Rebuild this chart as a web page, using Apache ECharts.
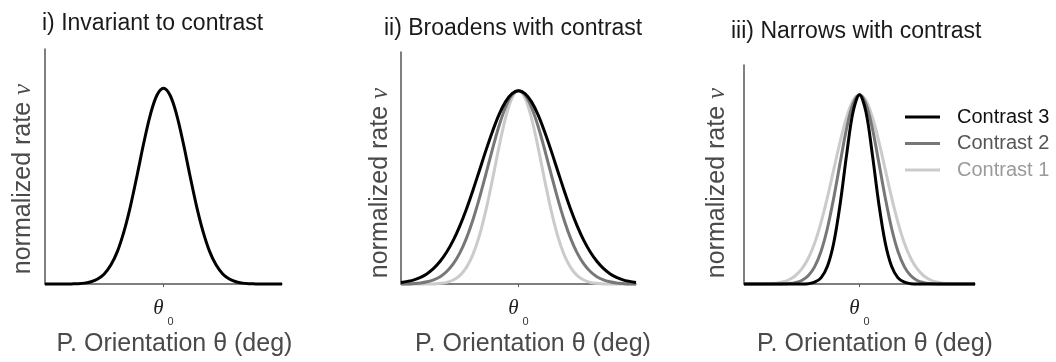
<!DOCTYPE html>
<html>
<head>
<meta charset="utf-8">
<script src="https://cdn.jsdelivr.net/npm/echarts@6/dist/echarts.min.js"></script>
<style>
  html, body { margin: 0; padding: 0; background: #fff; }
  #chart { width: 1056px; height: 362px; }
</style>
</head>
<body>
<div id="chart"></div>
<script>
// Preferred orientation offsets (deg), shared by all three panels
const orientation = [-90, -85, -80, -75, -70, -65, -60, -55, -50, -45, -40, -35, -30, -25, -20, -15, -10, -5, 0,
  5, 10, 15, 20, 25, 30, 35, 40, 45, 50, 55, 60, 65, 70, 75, 80, 85, 90];

// Panel i: one tuning curve, same for every contrast
const invariantRate = [0, 0, 0, 0, 0.001, 0.002, 0.005, 0.012, 0.026, 0.052, 0.097, 0.167, 0.269, 0.401, 0.557, 0.72, 0.864, 0.964, 1,
  0.964, 0.864, 0.72, 0.557, 0.401, 0.269, 0.167, 0.097, 0.052, 0.026, 0.012, 0.005, 0.002, 0.001, 0, 0, 0, 0];

// Panel ii: tuning broadens as contrast rises
const broadC3 = [0.008, 0.014, 0.022, 0.035, 0.054, 0.081, 0.118, 0.166, 0.226, 0.3, 0.386, 0.483, 0.586, 0.69, 0.788, 0.875, 0.942, 0.985, 1,
  0.985, 0.942, 0.875, 0.788, 0.69, 0.586, 0.483, 0.386, 0.3, 0.226, 0.166, 0.118, 0.081, 0.054, 0.035, 0.022, 0.014, 0.008];
const broadC2 = [0.001, 0.001, 0.003, 0.006, 0.012, 0.022, 0.038, 0.065, 0.104, 0.16, 0.235, 0.33, 0.443, 0.568, 0.696, 0.816, 0.913, 0.978, 1,
  0.978, 0.913, 0.816, 0.696, 0.568, 0.443, 0.33, 0.235, 0.16, 0.104, 0.065, 0.038, 0.022, 0.012, 0.006, 0.003, 0.001, 0.001];
const broadC1 = [0, 0, 0, 0, 0.001, 0.001, 0.004, 0.009, 0.021, 0.044, 0.085, 0.151, 0.249, 0.381, 0.539, 0.707, 0.857, 0.962, 1,
  0.962, 0.857, 0.707, 0.539, 0.381, 0.249, 0.151, 0.085, 0.044, 0.021, 0.009, 0.004, 0.001, 0.001, 0, 0, 0, 0];

// Panel iii: tuning narrows as contrast rises
const narrowC3 = [0, 0, 0, 0, 0, 0, 0, 0, 0, 0, 0.002, 0.01, 0.033, 0.094, 0.22, 0.427, 0.685, 0.91, 1,
  0.91, 0.685, 0.427, 0.22, 0.094, 0.033, 0.01, 0.002, 0, 0, 0, 0, 0, 0, 0, 0, 0, 0];
const narrowC2 = [0, 0, 0, 0, 0, 0, 0.001, 0.003, 0.008, 0.019, 0.044, 0.091, 0.172, 0.295, 0.458, 0.644, 0.823, 0.952, 1,
  0.952, 0.823, 0.644, 0.458, 0.295, 0.172, 0.091, 0.044, 0.019, 0.008, 0.003, 0.001, 0, 0, 0, 0, 0, 0];
const narrowC1 = [0, 0, 0, 0.001, 0.002, 0.005, 0.011, 0.023, 0.044, 0.08, 0.135, 0.216, 0.325, 0.458, 0.607, 0.755, 0.882, 0.969, 1,
  0.969, 0.882, 0.755, 0.607, 0.458, 0.325, 0.216, 0.135, 0.08, 0.044, 0.023, 0.011, 0.005, 0.002, 0.001, 0, 0, 0];

const panelTitles = ['i) Invariant to contrast', 'ii) Broadens with contrast', 'iii) Narrows with contrast'];
const contrastNames = ['Contrast 1', 'Contrast 2', 'Contrast 3'];
const xAxisTitle = 'P. Orientation θ (deg)';
const preferredTick = [0];

const SANS = '"Liberation Sans", Arial, Helvetica, sans-serif';
const SERIF = '"Liberation Serif", "DejaVu Serif", serif';
const AXIS_COLOR = '#555';
const LABEL_COLOR = '#4a4a4a';
const curveColors = { 'Contrast 1': '#cbcbcb', 'Contrast 2': '#777777', 'Contrast 3': '#000000' };

const pairs = vals => orientation.map((x, i) => [x, vals[i]]);

const grids = [
  { left: 45, top: 49, width: 237, height: 237 },
  { left: 401, top: 52, width: 235, height: 233 },
  { left: 744, top: 65, width: 231, height: 221 }
];
const yMax = [1.2, 1.2, 1.157];
const xNamePad = [22, 29, 31];
const yNameGap = [9, 8.5, 14.5];
const yNamePad = [25, 30, 17];

function xAxisFor(i) {
  return {
    type: 'value', gridIndex: i, min: -90, max: 90, interval: 90,
    axisLine: { show: true, onZero: false, lineStyle: { color: AXIS_COLOR, width: 1.5 } },
    axisTick: { show: true, customValues: preferredTick, length: 3, lineStyle: { color: AXIS_COLOR, width: 1 } },
    axisLabel: {
      customValues: preferredTick, margin: 6,
      formatter: () => '{t|θ}{s|0}',
      rich: {
        t: { fontFamily: SERIF, fontStyle: 'italic', fontSize: 21, color: '#222' },
        s: { fontFamily: SANS, fontSize: 11, color: '#333', padding: [26, 0, 0, 4] }
      }
    },
    splitLine: { show: false },
    name: xAxisTitle, nameLocation: 'middle', nameGap: 45.5,
    nameTextStyle: { fontFamily: SANS, fontSize: 25, color: LABEL_COLOR, padding: [0, 0, 0, xNamePad[i]] }
  };
}

function yAxisFor(i) {
  return {
    type: 'value', gridIndex: i, min: 0, max: yMax[i],
    axisLine: { show: true, onZero: false, lineStyle: { color: AXIS_COLOR, width: 1.5 } },
    axisTick: { show: false }, axisLabel: { show: false }, splitLine: { show: false },
    name: '{a|normalized rate }{b|ν}', nameLocation: 'middle', nameRotate: 90, nameGap: yNameGap[i],
    nameTextStyle: {
      padding: [0, yNamePad[i], 0, 0],
      rich: {
        a: { fontFamily: SANS, fontSize: 25, color: LABEL_COLOR },
        b: { fontFamily: SERIF, fontStyle: 'italic', fontSize: 25, color: LABEL_COLOR }
      }
    }
  };
}

function curve(name, i, vals) {
  const c = curveColors[name];
  return {
    name, type: 'line', xAxisIndex: i, yAxisIndex: i, data: pairs(vals),
    showSymbol: false, symbol: 'none', smooth: 0.35, clip: false,
    lineStyle: { color: c, width: 3 }, itemStyle: { color: c },
    emphasis: { disabled: true }
  };
}

const titleTops = [12.5, 17, 20];
const titleLefts = [42, 384, 731];

const option = {
  animation: false,
  backgroundColor: '#fff',
  title: panelTitles.map((t, i) => ({
    text: t, left: titleLefts[i], top: titleTops[i], padding: 0,
    textStyle: { fontFamily: SANS, fontSize: 23, fontWeight: 'normal', color: '#1a1a1a' }
  })),
  legend: {
    data: [
      { name: contrastNames[2], textStyle: { color: '#111' } },
      { name: contrastNames[1], textStyle: { color: '#555' } },
      { name: contrastNames[0], textStyle: { color: '#9a9a9a' } }
    ],
    orient: 'vertical', left: 905, top: 107, padding: 0,
    icon: 'rect', itemWidth: 35, itemHeight: 3, itemGap: 6.5,
    selectedMode: false,
    textStyle: { fontFamily: SANS, fontSize: 20, padding: [0, 0, 0, 12] }
  },
  grid: grids.map(g => Object.assign({ containLabel: false }, g)),
  xAxis: [0, 1, 2].map(xAxisFor),
  yAxis: [0, 1, 2].map(yAxisFor),
  series: [
    curve('Contrast 3', 0, invariantRate),
    curve(contrastNames[0], 1, broadC1),
    curve(contrastNames[1], 1, broadC2),
    curve(contrastNames[2], 1, broadC3),
    curve(contrastNames[0], 2, narrowC1),
    curve(contrastNames[1], 2, narrowC2),
    curve(contrastNames[2], 2, narrowC3)
  ]
};

const chart = echarts.init(document.getElementById('chart'), null, { renderer: 'canvas' });
chart.setOption(option);
</script>
</body>
</html>
